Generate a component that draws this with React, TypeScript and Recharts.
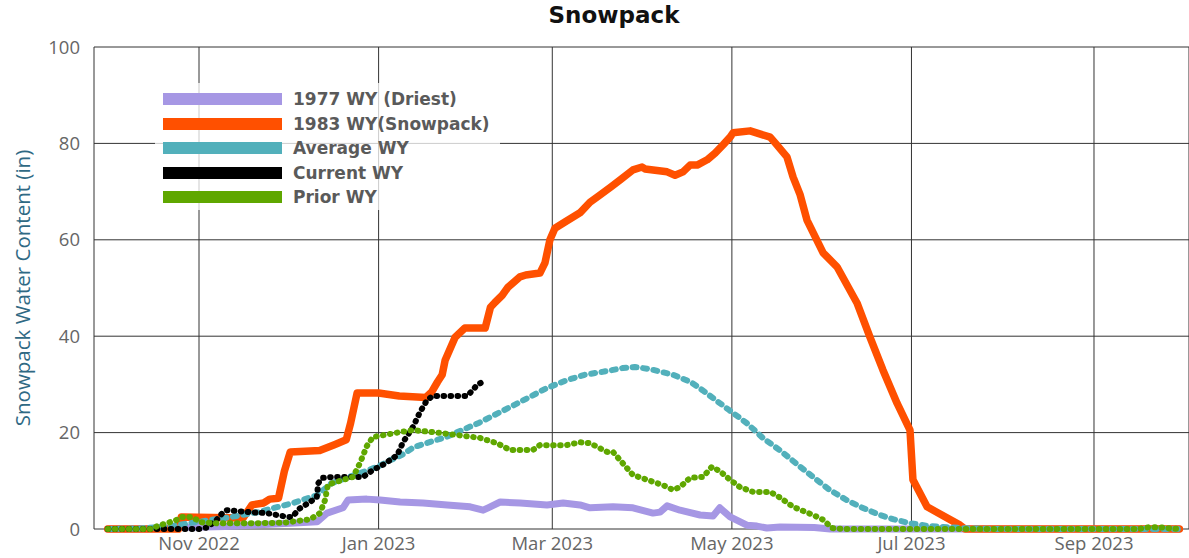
import React from 'react';
import { LineChart, Line, XAxis, YAxis, CartesianGrid, Legend } from 'recharts';

// Day index = days since 2022-10-01 (start of water year)
const START = Date.UTC(2022, 9, 1);
const dayOf = (iso: string) => Math.round((Date.parse(iso + 'T00:00:00Z') - START) / 86400000);

const TICK_DATES = ['2022-11-01', '2023-01-01', '2023-03-01', '2023-05-01', '2023-07-01', '2023-09-01'];
const TICK_LABELS = ['Nov 2022', 'Jan 2023', 'Mar 2023', 'May 2023', 'Jul 2023', 'Sep 2023'];
const Y_TICKS = [0, 20, 40, 60, 80, 100];

const SERIES_NAMES = ['1977 WY (Driest)', '1983 WY(Snowpack)', 'Average WY', 'Current WY', 'Prior WY'];
const SERIES_COLORS = ['#a697e4', '#ff5000', '#52b0bb', '#000000', '#5fa700'];

// [day index, inches]
const DRIEST_1977: [number, number][] = [
  [0, 0], [15, 0], [25, 0.3], [40, 0.5], [61.9, 1.2], [71.1, 1.5], [74.5, 3.3], [79.9, 4.4], [81.6, 6], [88, 6.2],
  [92.5, 6], [99.3, 5.6], [107.1, 5.4], [115.3, 5], [123.1, 4.6], [127.5, 3.9], [129.2, 4.4], [133.3, 5.6],
  [140.1, 5.4], [149.2, 5], [154.7, 5.4], [160.4, 5], [163.8, 4.4], [171.6, 4.6], [178.4, 4.4], [185.2, 3.3],
  [187.6, 3.5], [190, 4.8], [194.4, 3.9], [201.2, 2.9], [205.6, 2.7], [207.9, 4.4], [211.4, 2.5], [217.1, 0.8],
  [220.5, 0.6], [223.9, 0.2], [228.4, 0.4], [240, 0.3], [245.4, 0], [364, 0],
];

const SNOWPACK_1983: [number, number][] = [
  [0, 0], [24, 0], [25, 2.5], [46, 2.3], [49, 5], [53, 5.4], [55, 6.2], [58, 6.4], [60, 12], [62, 16], [72, 16.3],
  [77, 17.5], [81, 18.5], [82.5, 22], [84.7, 28.2], [92, 28.2], [99, 27.6], [108, 27.3], [110, 28.4], [112, 30.5],
  [113.6, 32], [114.6, 35], [118, 39.8], [121.3, 41.7], [128.2, 41.7], [130, 46], [131.5, 47], [134, 48.5],
  [136, 50.2], [140, 52.3], [142, 52.7], [146.8, 53.1], [148.5, 55.2], [150.2, 60], [151.9, 62.4], [155.3, 63.7],
  [160.4, 65.6], [163.8, 67.8], [167.2, 69.3], [171, 71], [174, 72.4], [178.4, 74.5], [181.5, 75.1], [182.5, 74.7],
  [190, 74.1], [192.7, 73.4], [195.4, 74.1], [197.8, 75.5], [200.2, 75.5], [203.6, 76.6], [206.3, 78], [209, 79.7],
  [211.4, 81.3], [212.4, 82.2], [218.2, 82.6], [225, 81.3], [226.7, 80.1], [230.7, 77.2], [232.8, 73],
  [235.2, 69.3], [237.5, 64.1], [243, 57.3], [247.7, 54.4], [254.5, 46.9], [258.9, 39.8], [263.3, 33],
  [268.1, 26.1], [272.5, 20.5], [273.5, 10.2], [278.3, 4.6], [289.5, 0.8], [291.2, 0], [364, 0],
];

const AVERAGE_WY: [number, number][] = [
  [0, 0], [10, 0.1], [20, 0.5], [31, 1.5], [42, 2.5], [51, 3.5], [63, 5.4], [71, 7], [76, 9.5], [82, 10.8],
  [92, 13], [95, 14], [100, 15.4], [104, 17], [115, 19.1], [126, 22], [138, 25.7], [149, 29.2], [156, 30.9],
  [162, 32], [168, 32.6], [175, 33.4], [179, 33.6], [184, 33.2], [192, 32], [198, 30.5], [202, 28.8],
  [211, 24.7], [217, 22], [222.5, 18.9], [228.6, 16.2], [234, 13.5], [239.6, 10.8], [245, 8.2], [251, 6],
  [256, 4.5], [262.3, 2.9], [267, 2], [272.5, 1.2], [279, 0.6], [289.5, 0.2], [300, 0], [364, 0],
];

const CURRENT_WY: [number, number][] = [
  [0, 0], [31, 0], [33.7, 0.3], [37, 1.9], [39.2, 3.5], [40.5, 3.9], [48, 3.5], [54, 3.3], [61, 2.5], [62.6, 2.5],
  [65.3, 4.3], [68.7, 5.6], [71, 6.6], [71.5, 9.5], [73, 10.6], [76.5, 10.8], [86.7, 10.8], [90, 12.2], [94, 13.5],
  [98.3, 15.3], [100.3, 18], [103.7, 21.2], [106.1, 24.3], [108.5, 26.8], [110.5, 27.6], [115, 27.6], [122, 27.6],
  [124, 28.8], [125.4, 29.9], [128, 30.7],
];

const PRIOR_WY: [number, number][] = [
  [0, 0], [15, 0], [16.8, 0.6], [20, 1.2], [23.5, 1.9], [25.2, 2.5], [28, 2.5], [30.3, 1.9], [31.4, 1.4], [37, 1.2],
  [50, 1.2], [60, 1.3], [68.7, 2], [72.1, 3.3], [73.8, 6], [74.8, 9.2], [78.9, 10], [83.3, 10.8], [85.7, 13.7],
  [88, 17.2], [90.1, 19.1], [94.9, 19.6], [99.3, 20.1], [103.7, 20.5], [110.5, 20.1], [118.6, 19.5], [126.4, 18.9],
  [132.2, 17.8], [136.6, 16.4], [144.4, 16.4], [146.8, 17.4], [155.9, 17.4], [160.4, 18], [163.8, 17.8],
  [169.6, 16], [171.6, 16], [174, 14.3], [178.4, 11.2], [183.2, 10.2], [188.6, 9.1], [192, 8.1], [194.4, 8.7],
  [197.8, 10.6], [202.2, 10.8], [205.2, 12.9], [207.9, 12], [211.4, 10.2], [214.7, 8.7], [219.2, 7.7], [225, 7.7],
  [228.4, 6.5], [232.8, 4.6], [239.6, 2.9], [243, 1.9], [246, 0.2], [250, 0], [350, 0], [354, 0.4], [358, 0.3],
  [363.6, 0],
];

const toRows = (pairs: [number, number][]) => pairs.map(([d, v]) => ({ d, v }));

const SERIES = [
  { data: toRows(DRIEST_1977), width: 7, dash: undefined as string | undefined },
  { data: toRows(SNOWPACK_1983), width: 7.5, dash: undefined as string | undefined },
  { data: toRows(AVERAGE_WY), width: 6, dash: '4 6.5' },
  { data: toRows(CURRENT_WY), width: 6, dash: '0.6 6.4' },
  { data: toRows(PRIOR_WY), width: 6, dash: '0.6 6.4' },
];

const TICK_DAYS = TICK_DATES.map(dayOf);
const labelForDay = (d: number) => {
  const i = TICK_DAYS.indexOf(d);
  return i >= 0 ? TICK_LABELS[i] : '';
};

const renderLegend = (props: any) => {
  const payload: any[] = props && props.payload && props.payload.length
    ? props.payload
    : SERIES_NAMES.map((n, i) => ({ value: n, color: SERIES_COLORS[i] }));
  return (
    <div
      style={{
        width: 345,
        height: 127,
        background: 'rgba(255,255,255,0.75)',
        boxSizing: 'border-box',
        paddingTop: 3.7,
      }}
    >
      {payload.map((p, i) => (
        <div key={i} style={{ height: 24.6, display: 'flex', alignItems: 'center' }}>
          <div style={{ marginLeft: 8, width: 119, height: 12, background: p.color }} />
          <span
            style={{
              marginLeft: 11,
              fontFamily: '"DejaVu Sans", sans-serif',
              fontWeight: 'bold',
              fontSize: 17,
              color: '#5a5a5a',
              lineHeight: '20px',
              whiteSpace: 'nowrap',
            }}
          >
            {p.value}
          </span>
        </div>
      ))}
    </div>
  );
};

export default function App() {
  return (
    <div style={{ position: 'absolute', left: 0, top: 0, width: 1189, height: 558, background: '#fff' }}>
      <div
        style={{
          position: 'absolute',
          left: 464,
          width: 300,
          top: 1,
          textAlign: 'center',
          fontFamily: '"DejaVu Sans", sans-serif',
          fontWeight: 'bold',
          fontSize: 23,
          lineHeight: '28px',
          color: '#111',
        }}
      >
        Snowpack
      </div>
      <LineChart width={1189} height={558} margin={{ top: 47, right: 0, bottom: 0, left: 0 }}>
        <CartesianGrid stroke="#333" strokeWidth={1} />
        <XAxis
          dataKey="d"
          type="number"
          domain={[-4.67, 367.27]}
          allowDataOverflow
          ticks={TICK_DAYS}
          tickFormatter={labelForDay}
          height={29}
          tickSize={0}
          tickMargin={8}
          axisLine={false}
          tickLine={false}
          tick={{ fill: '#666', fontSize: 18.5, fontFamily: '"Open Sans", sans-serif' }}
        />
        <YAxis
          type="number"
          domain={[0, 100]}
          ticks={Y_TICKS}
          width={94}
          tickSize={0}
          tickMargin={14}
          axisLine={false}
          tickLine={false}
          tick={{ fill: '#666', fontSize: 18.5, fontFamily: '"Open Sans", sans-serif' }}
          label={{
            content: (p: any) => {
              const vb = p.viewBox || { x: 0, y: 47, width: 94, height: 482 };
              const cx = vb.x + 22;
              const cy = vb.y + vb.height / 2;
              return (
                <text
                  x={cx}
                  y={cy}
                  transform={`rotate(-90 ${cx} ${cy})`}
                  textAnchor="middle"
                  dominantBaseline="central"
                  fill="#2f6984"
                  fontSize={20.5}
                  fontFamily='"Open Sans", sans-serif'
                >
                  Snowpack Water Content (in)
                </text>
              );
            },
          }}
        />
        <Legend
          layout="horizontal"
          verticalAlign="middle"
          align="center"
          content={renderLegend}
          wrapperStyle={{ left: 155, top: 83, width: 345, height: 127 }}
        />
        {SERIES.map((s, i) => (
          <Line
            key={SERIES_NAMES[i]}
            name={SERIES_NAMES[i]}
            data={s.data}
            dataKey="v"
            type="linear"
            stroke={SERIES_COLORS[i]}
            strokeWidth={s.width}
            strokeDasharray={s.dash}
            strokeLinecap="round"
            strokeLinejoin="round"
            dot={false}
            activeDot={false}
            isAnimationActive={false}
          />
        ))}
      </LineChart>
    </div>
  );
}
